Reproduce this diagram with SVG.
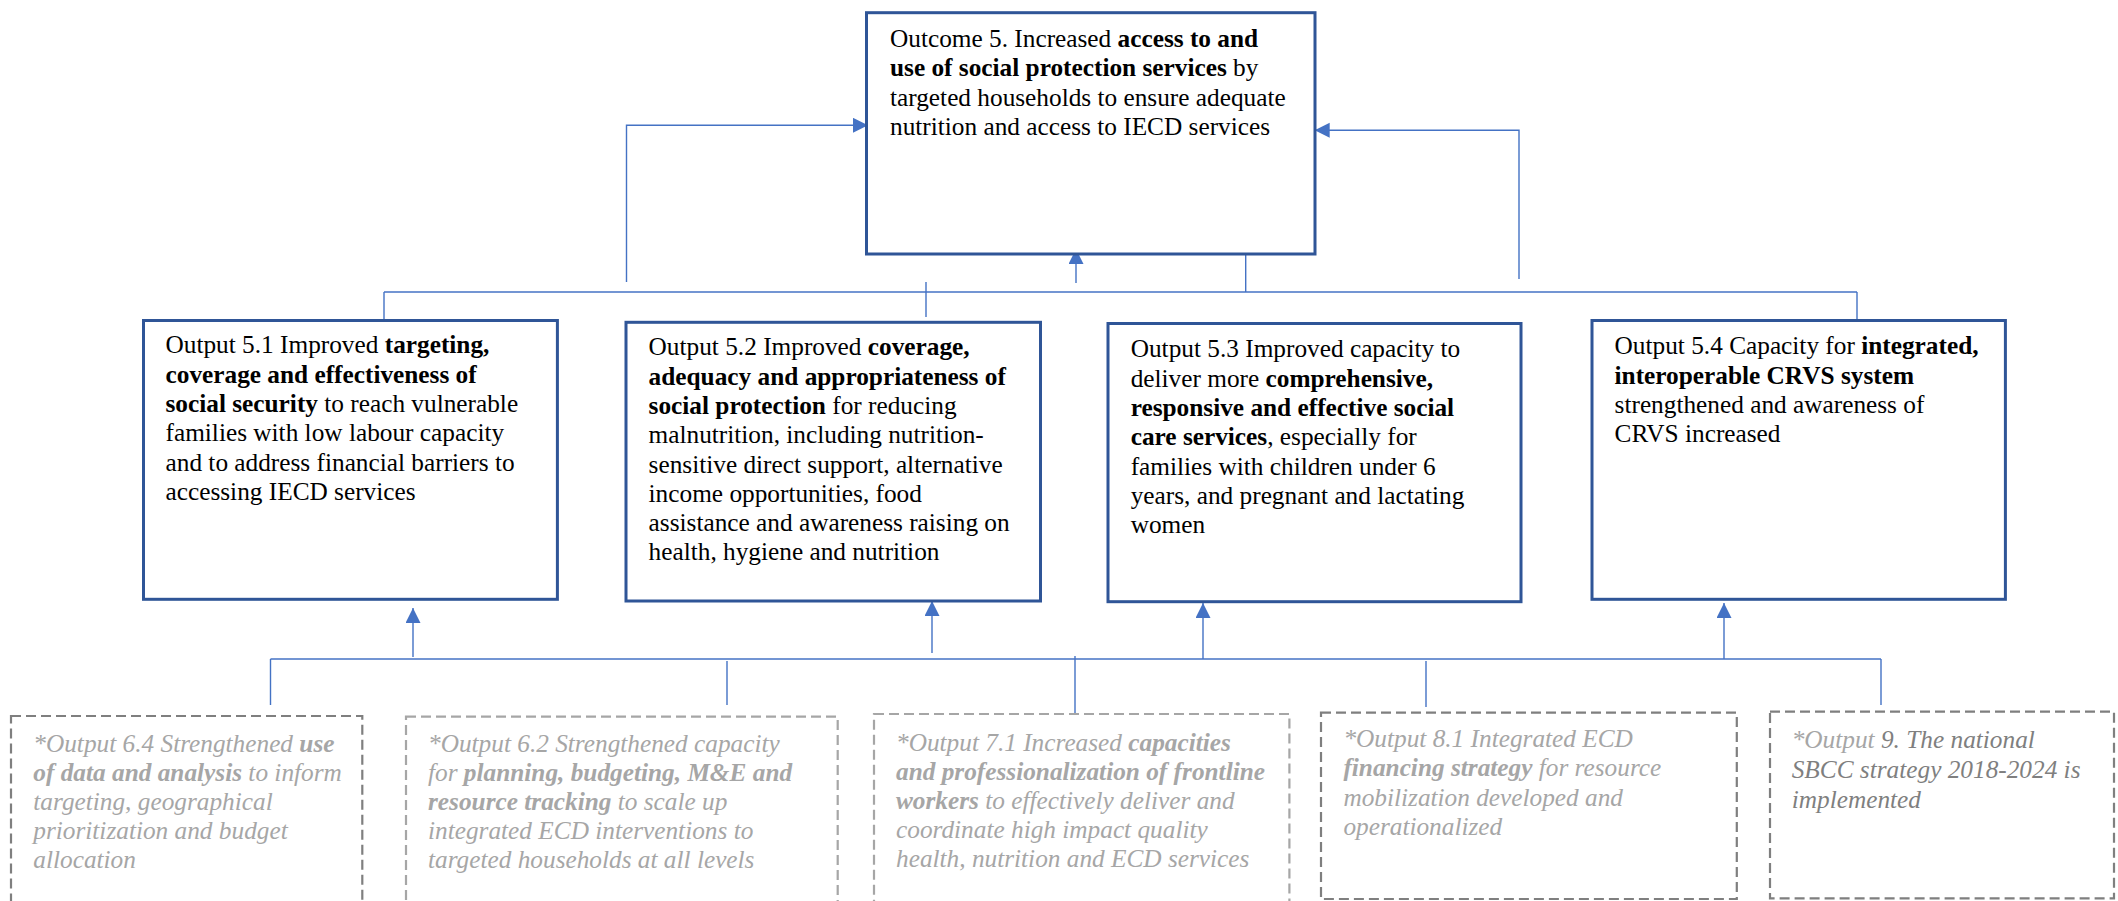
<svg xmlns="http://www.w3.org/2000/svg" width="2118" height="901" viewBox="0 0 2118 901">
  <style>
    .box { fill: #fff; stroke: #2F5597; stroke-width: 3; }
    .dash { fill: none; stroke-width: 2.2; stroke-dasharray: 10 5; }
    .dk { stroke: #7F7F7F; }
    .lt { stroke: #A6A6A6; }
    .ln { fill: none; stroke: #4472C4; stroke-width: 1.4; }
    .t { font-family: "Liberation Serif", "Times New Roman", serif; font-size: 25.3px; fill: #000; }
    .g { font-family: "Liberation Serif", "Times New Roman", serif; font-size: 25.3px; font-style: italic; fill: #A6A6A6; }
    .b { font-weight: bold; }
    .d { fill: #7F7F7F; }
  </style>
  <defs>
    <marker id="arr" markerUnits="userSpaceOnUse" markerWidth="16" markerHeight="16" refX="15" refY="7.5" orient="auto">
      <path d="M0,0 L15,7.5 L0,15 Z" fill="#4472C4"/>
    </marker>
  </defs>

  <rect width="2118" height="901" fill="#fff"/>

  <!-- connectors -->
  <g id="connectors">
    <!-- upper bus: outputs to outcome -->
    <path class="ln" d="M384,292 H1857"/>
    <path class="ln" d="M384,292 V331"/>
    <path class="ln" d="M926,282 V317"/>
    <path class="ln" d="M1857,292 V330"/>
    <path class="ln" d="M1245.7,252 V292"/>
    <path class="ln" d="M626.5,282 V125.3 H868" marker-end="url(#arr)"/>
    <path class="ln" d="M1519,279 V130.3 H1314.7" marker-end="url(#arr)"/>
    <path class="ln" d="M1076,283 V249" marker-end="url(#arr)"/>
    <!-- lower bus: contributing outputs -->
    <path class="ln" d="M270.5,659 H1881"/>
    <path class="ln" d="M270.5,659 V705"/>
    <path class="ln" d="M727,661 V705"/>
    <path class="ln" d="M1075,656 V715"/>
    <path class="ln" d="M1426,661 V707"/>
    <path class="ln" d="M1881,659 V705"/>
    <path class="ln" d="M413,657 V608" marker-end="url(#arr)"/>
    <path class="ln" d="M932,653 V601" marker-end="url(#arr)"/>
    <path class="ln" d="M1203,659 V603" marker-end="url(#arr)"/>
    <path class="ln" d="M1724,659 V603" marker-end="url(#arr)"/>
  </g>

  <!-- outcome -->
  <g id="outcome5">
    <rect class="box" x="866.5" y="12.7" width="448.5" height="241.3"/>
    <text class="t" x="890">
      <tspan x="890" y="46.7">Outcome 5. Increased <tspan class="b">access to and</tspan></tspan>
      <tspan x="890" y="76.2"><tspan class="b">use of social protection services</tspan> by</tspan>
      <tspan x="890" y="105.6">targeted households to ensure adequate</tspan>
      <tspan x="890" y="135">nutrition and access to IECD services</tspan>
    </text>
  </g>

  <!-- outputs -->
  <g id="output51">
    <rect class="box" x="143.5" y="320.5" width="413.9" height="278.8"/>
    <text class="t">
      <tspan x="165.5" y="353.3">Output 5.1 Improved <tspan class="b">targeting,</tspan></tspan>
      <tspan x="165.5" y="382.6" class="b">coverage and effectiveness of</tspan>
      <tspan x="165.5" y="411.9"><tspan class="b">social security</tspan> to reach vulnerable</tspan>
      <tspan x="165.5" y="441.2">families with low labour capacity</tspan>
      <tspan x="165.5" y="470.5">and to address financial barriers to</tspan>
      <tspan x="165.5" y="499.8">accessing IECD services</tspan>
    </text>
  </g>

  <g id="output52">
    <rect class="box" x="626" y="322.3" width="414.5" height="278.7"/>
    <text class="t">
      <tspan x="648.6" y="355.3">Output 5.2 Improved <tspan class="b">coverage,</tspan></tspan>
      <tspan x="648.6" y="384.6" class="b">adequacy and appropriateness of</tspan>
      <tspan x="648.6" y="413.9"><tspan class="b">social protection</tspan> for reducing</tspan>
      <tspan x="648.6" y="443.2">malnutrition, including nutrition-</tspan>
      <tspan x="648.6" y="472.5">sensitive direct support, alternative</tspan>
      <tspan x="648.6" y="501.8">income opportunities, food</tspan>
      <tspan x="648.6" y="531.1">assistance and awareness raising on</tspan>
      <tspan x="648.6" y="560.4">health, hygiene and nutrition</tspan>
    </text>
  </g>

  <g id="output53">
    <rect class="box" x="1108" y="323.5" width="413" height="278.2"/>
    <text class="t">
      <tspan x="1130.7" y="357.3">Output 5.3 Improved capacity to</tspan>
      <tspan x="1130.7" y="386.6">deliver more <tspan class="b">comprehensive,</tspan></tspan>
      <tspan x="1130.7" y="415.9" class="b">responsive and effective social</tspan>
      <tspan x="1130.7" y="445.2"><tspan class="b">care services</tspan>, especially for</tspan>
      <tspan x="1130.7" y="474.5">families with children under 6</tspan>
      <tspan x="1130.7" y="503.8">years, and pregnant and lactating</tspan>
      <tspan x="1130.7" y="533.1">women</tspan>
    </text>
  </g>

  <g id="output54">
    <rect class="box" x="1592" y="320.5" width="413.4" height="278.8"/>
    <text class="t">
      <tspan x="1614.6" y="354.3">Output 5.4 Capacity for <tspan class="b">integrated,</tspan></tspan>
      <tspan x="1614.6" y="383.6" class="b">interoperable CRVS system</tspan>
      <tspan x="1614.6" y="412.9">strengthened and awareness of</tspan>
      <tspan x="1614.6" y="442.2">CRVS increased</tspan>
    </text>
  </g>

  <!-- contributing outputs (dashed) -->
  <g id="output64">
    <rect class="dash dk" x="11" y="716" width="351.3" height="200"/>
    <text class="g">
      <tspan x="33.3" y="751.5">*Output 6.4 Strengthened <tspan class="b">use</tspan></tspan>
      <tspan x="33.3" y="780.5"><tspan class="b">of data and analysis</tspan> to inform</tspan>
      <tspan x="33.3" y="809.5">targeting, geographical</tspan>
      <tspan x="33.3" y="838.5">prioritization and budget</tspan>
      <tspan x="33.3" y="867.5">allocation</tspan>
    </text>
  </g>

  <g id="output62">
    <rect class="dash lt" x="406" y="716.7" width="431.7" height="200"/>
    <text class="g">
      <tspan x="428" y="751.5">*Output 6.2 Strengthened capacity</tspan>
      <tspan x="428" y="780.5">for <tspan class="b">planning, budgeting, M&amp;E and</tspan></tspan>
      <tspan x="428" y="809.5"><tspan class="b">resource tracking</tspan> to scale up</tspan>
      <tspan x="428" y="838.5">integrated ECD interventions to</tspan>
      <tspan x="428" y="867.5">targeted households at all levels</tspan>
    </text>
  </g>

  <g id="output71">
    <rect class="dash lt" x="874" y="714" width="415.4" height="200"/>
    <text class="g">
      <tspan x="896" y="750.5">*Output 7.1 Increased <tspan class="b">capacities</tspan></tspan>
      <tspan x="896" y="779.5" class="b">and professionalization of frontline</tspan>
      <tspan x="896" y="808.5"><tspan class="b">workers</tspan> to effectively deliver and</tspan>
      <tspan x="896" y="837.5">coordinate high impact quality</tspan>
      <tspan x="896" y="866.5">health, nutrition and ECD services</tspan>
    </text>
  </g>

  <g id="output81">
    <rect class="dash dk" x="1321" y="712.7" width="415.8" height="186.3"/>
    <text class="g">
      <tspan x="1343.4" y="747">*Output 8.1 Integrated ECD</tspan>
      <tspan x="1343.4" y="776.3"><tspan class="b">financing strategy</tspan> for resource</tspan>
      <tspan x="1343.4" y="805.6">mobilization developed and</tspan>
      <tspan x="1343.4" y="834.9">operationalized</tspan>
    </text>
  </g>

  <g id="output9">
    <rect class="dash dk" x="1770" y="711.7" width="344" height="186.6"/>
    <text class="g">
      <tspan x="1791.7" y="748.3">*Output<tspan class="d"> 9. The national</tspan></tspan>
      <tspan x="1791.7" y="778.3" class="d">SBCC strategy 2018-2024 is</tspan>
      <tspan x="1791.7" y="808.3" class="d">implemented</tspan>
    </text>
  </g>
</svg>
